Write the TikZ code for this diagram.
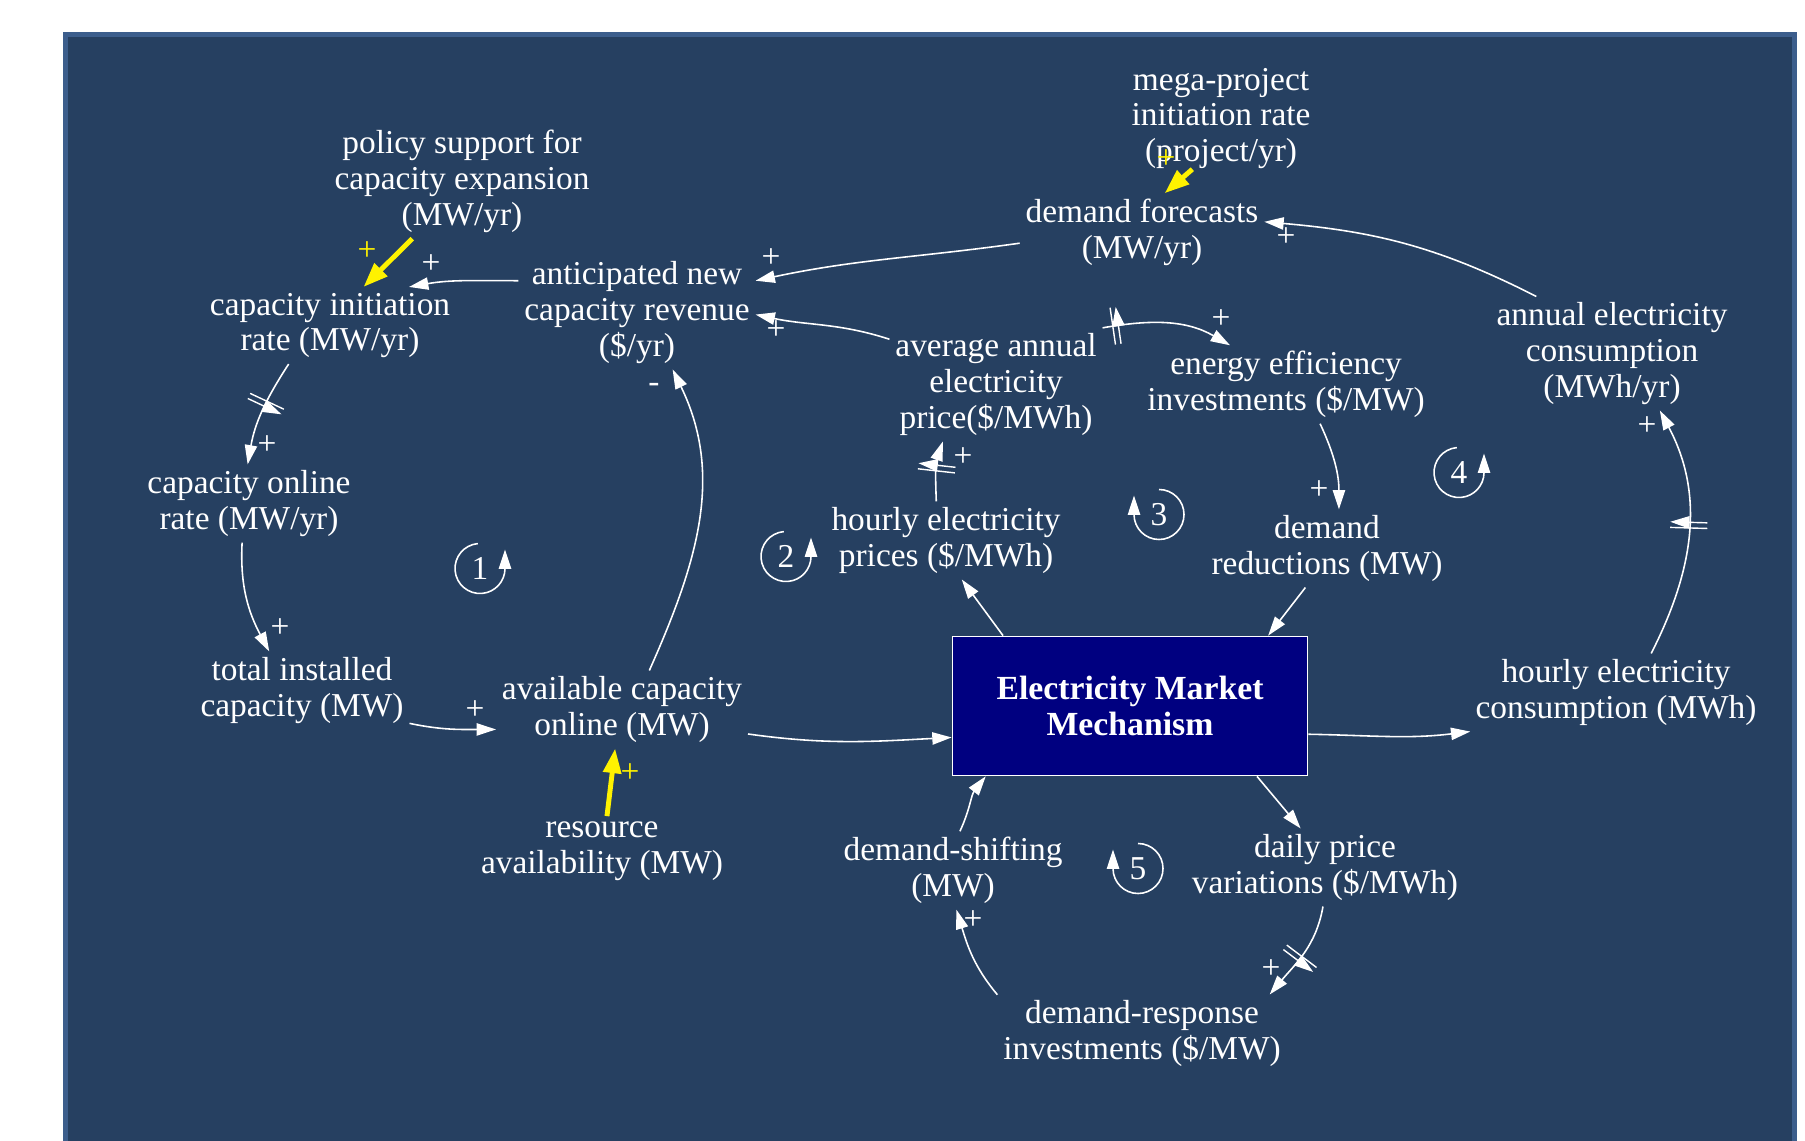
\documentclass[tikz,border=0pt]{standalone}
\usepackage{fontspec}
\setmainfont{Liberation Serif}
\usetikzlibrary{positioning, arrows.meta, decorations.markings}
\definecolor{panelblue}{RGB}{38,64,97}
\definecolor{panelrim}{RGB}{60,94,140}
\definecolor{boxnavy}{RGB}{0,0,128}

\begin{document}
\begin{tikzpicture}[
    vname/.style={text=white, align=center, inner sep=1.5pt, yshift=-0.035cm, font=\fontsize{9.5}{10.2}\selectfont},
    sgn/.style={text=white, inner sep=0pt, font=\fontsize{9.5}{10.2}\selectfont},
    link/.style={white, line width=0.45pt, -{Triangle[length=5.5pt,width=3.5pt]}},
    boost/.style={yellow, line width=1.4pt, -{Triangle[length=7pt,width=5pt]}},
    delaymark/.style={postaction={decorate, decoration={markings, mark=at position #1 with {\draw[white, line width=0.4pt] (-0.8pt,-5.3pt) -- (-0.8pt,5.3pt) (0.8pt,-5.3pt) -- (0.8pt,5.3pt);}}}}
]
    %% panel
    \useasboundingbox (0,0) rectangle (18.05,11.40);
    \fill[white] (0,0) rectangle (18.05,11.40);
    \draw[panelrim, line width=1.4pt, fill=panelblue] (0.655,-0.2) rectangle (17.945,11.055);

    %% variables
    \node[vname] (pol) at (4.62,9.62) {policy support for\\capacity expansion\\(MW/yr)};
    \node[vname] (mega) at (12.21,10.25) {mega-project\\initiation rate\\(project/yr)};
    \node[vname] (fcst) at (11.42,9.11) {demand forecasts\\(MW/yr)};
    \node[vname] (init) at (3.30,8.18) {capacity initiation\\rate (MW/yr)};
    \node[vname] (rev) at (6.37,8.31) {anticipated new\\capacity revenue\\(\$/yr)};
    \node[vname] (avgp) at (9.96,7.59) {average annual\\electricity\\price(\$/MWh)};
    \node[vname] (eff) at (12.86,7.59) {energy efficiency\\investments (\$/MW)};
    \node[vname] (annc) at (16.12,7.90) {annual electricity\\consumption\\(MWh/yr)};
    \node[vname] (onl) at (2.49,6.40) {capacity online\\rate (MW/yr)};
    \node[vname] (hrp) at (9.46,6.03) {hourly electricity\\prices (\$/MWh)};
    \node[vname] (red) at (13.27,5.95) {demand\\reductions (MW)};
    \node[vname] (inst) at (3.02,4.53) {total installed\\capacity (MW)};
    \node[vname] (avail) at (6.22,4.34) {available capacity\\online (MW)};
    \node[draw=white, line width=0.5pt, fill=boxnavy, text=white, align=center,
          minimum width=3.55cm, minimum height=1.39cm,
          font=\fontsize{9.6}{10.2}\selectfont\bfseries] (emm) at (11.30,4.34) {Electricity Market\\Mechanism};
    \node[vname] (hrc) at (16.16,4.51) {hourly electricity\\consumption (MWh)};
    \node[vname] (res) at (6.02,2.92) {resource\\availability (MW)};
    \node[vname] (shift) at (9.53,2.73) {demand-shifting\\(MW)};
    \node[vname] (dpv) at (13.25,2.76) {daily price\\variations (\$/MWh)};
    \node[vname] (dr) at (11.42,1.10) {demand-response\\investments (\$/MW)};

    %% links
    \draw[boost] (pol.229) -- (init.49);
    \draw[boost, shorten <=-2.5pt] (mega.238) -- (fcst.60);
    \draw[boost] (res.82) -- (avail.-100);
    \draw[link] (rev.165) to[out=180, in=10] (init.26);
    \draw[link] (fcst.185) to[out=188, in=12] (rev.15);
    \draw[link] (avgp.157) to[out=162, in=-12] (rev.-1);
    \draw[link] (annc.143) to[out=153, in=-5] (fcst.5);
    \draw[link, delaymark=0.1] (avgp.28) to[out=10, in=150] (eff.145);
    \draw[link] (eff.-49) to[out=-65, in=90] (red.73);
    \draw[link, delaymark=0.55] (hrp.104) to[out=92, in=-109] (avgp.227);
    \draw[link, delaymark=0.42] (init.223) to[out=-123, in=80] (onl.92);
    \draw[link] (onl.-100) to[out=-93, in=118] (inst.130);
    \draw[link] (inst.-17) to[out=-12, in=180] (avail.189);
    \draw[link] (avail.55) to[out=66, in=-64] (rev.-58);
    \draw[link] (avail.-11) to[out=-8, in=183] (emm.190);
    \draw[link] (emm.151) -- (hrp.-68);
    \draw[link] (red.241) -- (emm.27.5);
    \draw[link] (emm.-9) to[out=-1, in=187] (hrc.195);
    \draw[link, delaymark=0.53] (hrc.48.5) to[out=63, in=-62] (annc.-50);
    \draw[link] (emm.-29) -- (dpv.122.6);
    \draw[link, delaymark=0.55] (dpv.-93) to[out=-100, in=50] (dr.17);
    \draw[link] (dr.165) to[out=130, in=-73] (shift.-85);
    \draw[link] (shift.80) to[out=65, in=232] (emm.206);

    %% polarities
    \path (3.67,8.89) node[sgn, text=yellow] (sg1) {+}
          (11.66,9.81) node[sgn, text=yellow] (sg2) {+}
          (6.30,3.67) node[sgn, text=yellow] (sg3) {+}
          (4.31,8.76) node[sgn] (sg4) {+}
          (7.71,8.82) node[sgn] (sg5) {+}
          (7.76,8.10) node[sgn] (sg6) {+}
          (12.86,9.03) node[sgn] (sg7) {+}
          (12.21,8.21) node[sgn] (sg8) {+}
          (13.19,6.50) node[sgn] (sg9) {+}
          (9.63,6.83) node[sgn] (sg10) {+}
          (2.67,6.95) node[sgn] (sg11) {+}
          (2.80,5.12) node[sgn] (sg12) {+}
          (4.75,4.30) node[sgn] (sg13) {+}
          (6.54,7.52) node[sgn] (sg14) {-}
          (16.47,7.14) node[sgn] (sg15) {+}
          (12.71,1.71) node[sgn] (sg16) {+}
          (9.73,2.20) node[sgn] (sg17) {+};

    %% loops
    \node[vname] (lp1) at (4.80,5.75) {1};
    \node[vname] (lp2) at (7.86,5.87) {2};
    \node[vname] (lp3) at (11.59,6.29) {3};
    \node[vname] (lp4) at (14.59,6.71) {4};
    \node[vname] (lp5) at (11.38,2.75) {5};
    \draw[link] (lp1.center) ++(95:0.25) arc[start angle=95, end angle=360, radius=0.25] -- ++(0,0.19);
    \draw[link] (lp2.center) ++(95:0.25) arc[start angle=95, end angle=360, radius=0.25] -- ++(0,0.19);
    \draw[link] (lp4.center) ++(95:0.25) arc[start angle=95, end angle=360, radius=0.25] -- ++(0,0.19);
    \draw[link] (lp3.center) ++(90:0.25) arc[start angle=90, end angle=-180, radius=0.25] -- ++(0,0.19);
    \draw[link] (lp5.center) ++(90:0.25) arc[start angle=90, end angle=-180, radius=0.25] -- ++(0,0.19);
\end{tikzpicture}
\end{document}
